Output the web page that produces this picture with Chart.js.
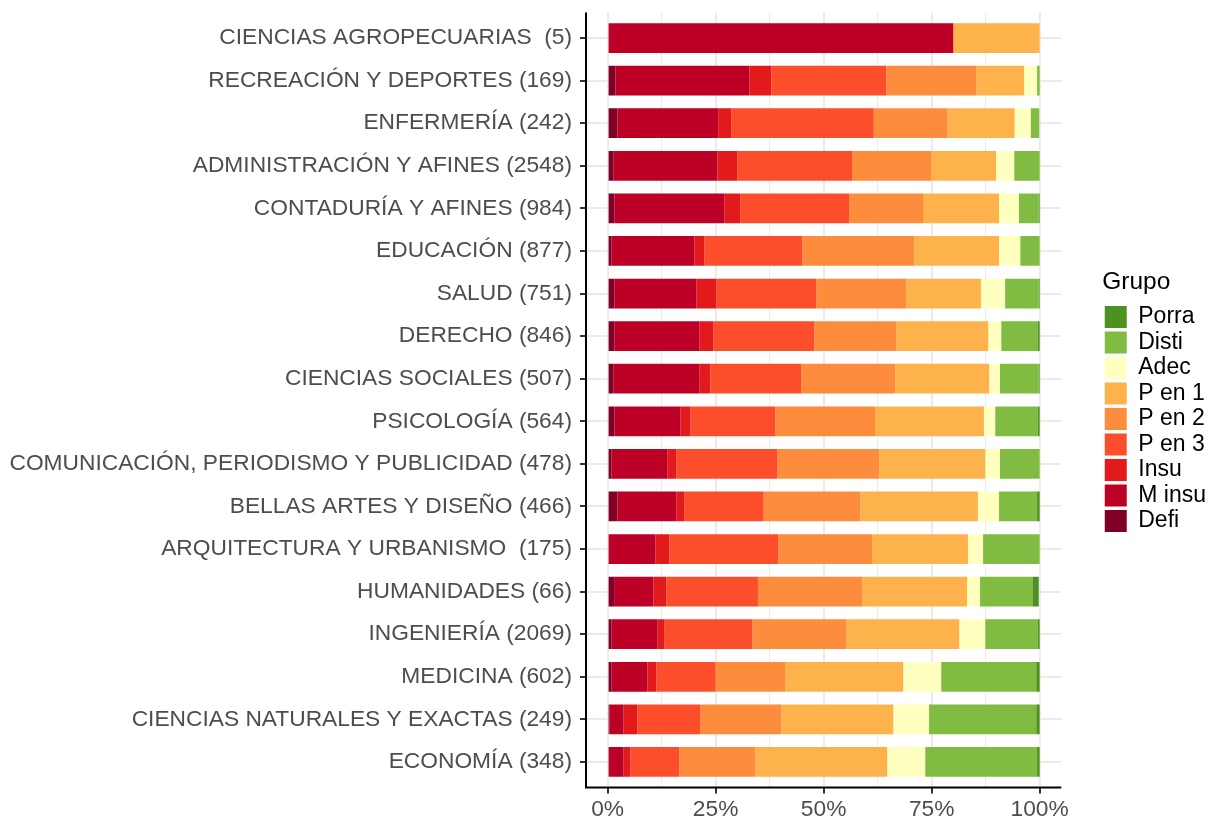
<!DOCTYPE html>
<html>
<head>
<meta charset="utf-8">
<script src="https://cdn.jsdelivr.net/npm/chart.js@4"></script>
<style>
  html, body { margin: 0; padding: 0; background: #fff; }
  #wrap { width: 1216px; height: 820px; }
</style>
</head>
<body>
<div id="wrap"><canvas id="chart" width="1216" height="820"></canvas></div>
<script>
// carreras, de arriba hacia abajo
const categories = [
    'CIENCIAS AGROPECUARIAS  (5)',
    'RECREACIÓN Y DEPORTES (169)',
    'ENFERMERÍA (242)',
    'ADMINISTRACIÓN Y AFINES (2548)',
    'CONTADURÍA Y AFINES (984)',
    'EDUCACIÓN (877)',
    'SALUD (751)',
    'DERECHO (846)',
    'CIENCIAS SOCIALES (507)',
    'PSICOLOGÍA (564)',
    'COMUNICACIÓN, PERIODISMO Y PUBLICIDAD (478)',
    'BELLAS ARTES Y DISEÑO (466)',
    'ARQUITECTURA Y URBANISMO  (175)',
    'HUMANIDADES (66)',
    'INGENIERÍA (2069)',
    'MEDICINA (602)',
    'CIENCIAS NATURALES Y EXACTAS (249)',
    'ECONOMÍA (348)'
];

// porcentaje por grupo (mismo orden que categories)
const defi  = [0, 1.8, 2.3, 1.4, 1.6, 0.9, 1.6, 1.6, 1.4, 1.6, 0.9, 2.3, 0, 1.5, 0.9, 0.9, 0.4, 0.3];
const mInsu = [80, 31.0, 23.3, 24.0, 25.4, 19.2, 19.0, 19.7, 19.9, 15.3, 13.0, 13.6, 11.1, 9.1, 10.7, 8.3, 3.3, 3.4];
const insu  = [0, 5.1, 3.0, 4.6, 3.7, 2.3, 4.6, 3.2, 2.5, 2.3, 2.0, 1.9, 3.2, 3.0, 1.6, 2.1, 3.2, 1.6];
const pEn3  = [0, 26.6, 33.0, 26.6, 25.2, 22.7, 23.1, 23.3, 21.0, 19.6, 23.4, 18.3, 25.2, 21.2, 20.3, 13.7, 14.6, 11.3];
const pEn2  = [0, 20.8, 17.1, 18.3, 17.1, 25.9, 20.8, 19.0, 21.8, 23.1, 23.6, 22.4, 21.7, 24.2, 21.7, 16.1, 18.7, 17.6];
const pEn1  = [20, 11.1, 15.5, 15.0, 17.6, 19.6, 17.3, 21.3, 21.7, 25.2, 24.5, 27.2, 22.2, 24.2, 26.2, 27.3, 25.9, 30.5];
const adec  = [0, 3.0, 3.7, 4.2, 4.6, 4.9, 5.6, 3.0, 2.5, 2.6, 3.4, 4.9, 3.5, 3.0, 6.0, 8.8, 8.3, 8.8];
const disti = [0, 0.6, 2.0, 5.9, 4.6, 4.5, 7.8, 8.5, 9.0, 9.9, 9.2, 8.8, 13.1, 12.1, 12.2, 22.0, 24.8, 25.9];
const porra = [0, 0, 0, 0, 0.2, 0, 0.2, 0.4, 0.2, 0.4, 0, 0.6, 0, 1.5, 0.4, 0.8, 0.8, 0.6];

const xTicks = [0, 12.5, 25, 37.5, 50, 62.5, 75, 87.5, 100];

const groups = [
    ['Defi', defi, '#800026'],
    ['M insu', mInsu, '#BD0026'],
    ['Insu', insu, '#E31A1C'],
    ['P en 3', pEn3, '#FC4E2A'],
    ['P en 2', pEn2, '#FD8D3C'],
    ['P en 1', pEn1, '#FEB24C'],
    ['Adec', adec, '#FFFFBF'],
    ['Disti', disti, '#7FBC41'],
    ['Porra', porra, '#4D9221']
];

const font = 'Liberation Sans, Arial, Helvetica, sans-serif';
const isMajor = v => v % 25 === 0;

// axis lines drawn over the full panel (ggplot style expansion)
const axisLines = {
    id: 'axisLines',
    afterDatasetsDraw(chart) {
        const {ctx, chartArea} = chart;
        ctx.save();
        ctx.strokeStyle = '#000';
        ctx.lineWidth = 2;
        ctx.beginPath();
        ctx.moveTo(chartArea.left, chartArea.top);
        ctx.lineTo(chartArea.left, chartArea.bottom + 1);
        ctx.moveTo(chartArea.left - 1, chartArea.bottom);
        ctx.lineTo(chartArea.right, chartArea.bottom);
        ctx.stroke();
        ctx.restore();
    }
};

new Chart(document.getElementById('chart'), {
    type: 'bar',
    data: {
        labels: categories,
        datasets: groups.map(g => ({
            label: g[0],
            data: g[1],
            backgroundColor: g[2],
            borderWidth: 0,
            barPercentage: 0.7,
            categoryPercentage: 1
        }))
    },
    options: {
        indexAxis: 'y',
        responsive: false,
        animation: false,
        layout: { padding: { top: 12.5, left: 10, right: 0, bottom: 0 } },
        scales: {
            x: {
                type: 'linear',
                stacked: true,
                min: -5,
                max: 105,
                afterBuildTicks: s => { s.ticks = xTicks.map(v => ({ value: v })); },
                afterFit: s => { s.height = 32.5; },
                border: { display: false },
                grid: {
                    color: '#EBEBEB',
                    lineWidth: c => isMajor(c.tick.value) ? 2 : 1,
                    tickColor: c => isMajor(c.tick.value) ? '#333333' : 'rgba(0,0,0,0)',
                    tickLength: 6,
                    tickWidth: 2
                },
                ticks: {
                    autoSkip: false,
                    maxRotation: 0,
                    padding: 5,
                    color: '#4D4D4D',
                    font: { family: font, size: 22.75, lineHeight: 1 },
                    callback: v => isMajor(v) ? v + '%' : ''
                }
            },
            y: {
                type: 'category',
                stacked: true,
                offset: true,
                afterBuildTicks: s => {
                    // 0.6 category expansion on each end, like ggplot
                    s._startValue = -0.6;
                    s._valueRange = categories.length - 1 + 1.2;
                },
                afterFit: s => {
                    s.width = 576;
                    s.paddingTop = 0;
                    s.paddingBottom = 0;
                },
                border: { display: false },
                grid: {
                    offset: false,
                    color: '#EBEBEB',
                    lineWidth: 2,
                    tickColor: '#333333',
                    tickLength: 6,
                    tickWidth: 2
                },
                ticks: {
                    autoSkip: false,
                    padding: 8,
                    color: '#4D4D4D',
                    font: { family: font, size: 22.75 }
                }
            },
            y2: {
                type: 'linear',
                position: 'right',
                display: true,
                afterFit: s => { s.width = 41; },
                grid: { display: false },
                border: { display: false },
                ticks: { display: false }
            }
        },
        plugins: {
            tooltip: { enabled: false },
            legend: {
                position: 'right',
                fullSize: false,
                reverse: true,
                title: {
                    display: true,
                    text: 'Grupo',
                    color: '#000',
                    position: 'start',
                    padding: { top: 5, bottom: 3.6 },
                    font: { family: font, size: 24.5 }
                },
                labels: {
                    boxWidth: 22,
                    boxHeight: 22,
                    padding: 2.5,
                    color: '#000',
                    font: { family: font, size: 23 }
                }
            }
        }
    },
    plugins: [axisLines]
});
</script>
</body>
</html>
